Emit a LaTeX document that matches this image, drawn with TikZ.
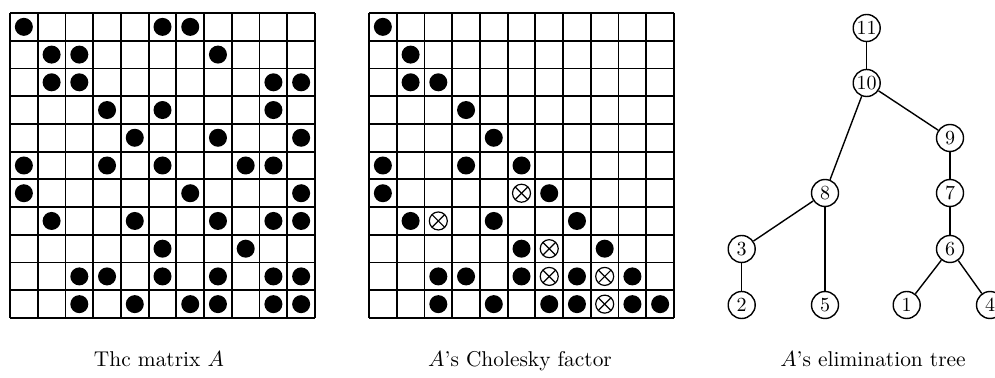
\documentclass[tikz,border=0pt]{standalone}
\usepackage{tikz}
\usetikzlibrary{positioning}

\begin{document}
\begin{tikzpicture}[
    x=0.5pt, y=-0.5pt,
    gridline/.style={line width=0.9pt},
    entry/.style={fill=black},
    fillin/.style={line width=0.6pt},
    vertex/.style={draw, circle, line width=0.7pt, minimum size=13.5pt, inner sep=0pt, font=\fontsize{10}{12}\selectfont},
    edge/.style={line width=0.7pt},
    caption/.style={anchor=base, font=\fontsize{10.7}{13}\selectfont}
]
    \useasboundingbox (0,0) rectangle (995,378);

    % The matrix A
    \begin{scope}[shift={(5pt,-6.5pt)}, x=13.864pt, y=-13.864pt]
        \foreach \i in {0,...,11} {
            \draw[gridline] (\i,0) -- (\i,11);
            \draw[gridline] (0,\i) -- (11,\i);
        }
        \foreach \r/\cs in {1/{1,6,7}, 2/{2,3,8}, 3/{2,3,10,11}, 4/{4,6,10},
                            5/{5,8,11}, 6/{1,4,6,9,10}, 7/{1,7,11}, 8/{2,5,8,10,11},
                            9/{6,9}, 10/{3,4,6,8,10,11}, 11/{3,5,7,8,10,11}}
            \foreach \c in \cs
                \fill[entry] (\c-0.5,\r-0.5) circle (4.5pt);
    \end{scope}

    % Cholesky factor
    \begin{scope}[shift={(184.5pt,-6.5pt)}, x=13.864pt, y=-13.864pt]
        \foreach \i in {0,...,11} {
            \draw[gridline] (\i,0) -- (\i,11);
            \draw[gridline] (0,\i) -- (11,\i);
        }
        \foreach \r/\cs in {1/{1}, 2/{2}, 3/{2,3}, 4/{4}, 5/{5}, 6/{1,4,6},
                            7/{1,7}, 8/{2,5,8}, 9/{6,9}, 10/{3,4,6,8,10},
                            11/{3,5,7,8,10,11}}
            \foreach \c in \cs
                \fill[entry] (\c-0.5,\r-0.5) circle (4.5pt);
        % fill-in
        \foreach \r/\c in {7/6, 8/3, 9/7, 10/7, 10/9, 11/9} {
            \draw[fillin] (\c-0.5,\r-0.5) circle (4.5pt);
            \draw[fillin] (\c-0.5,\r-0.5) ++(45:4.5pt) -- ++(225:9pt);
            \draw[fillin] (\c-0.5,\r-0.5) ++(135:4.5pt) -- ++(315:9pt);
        }
    \end{scope}

    % Elimination tree
    \node[vertex] (n11) at (866.7,28) {11};
    \node[vertex] (n10) at (866.7,83) {10};
    \node[vertex] (n9) at (950,138) {9};
    \node[vertex] (n8) at (825,193) {8};
    \node[vertex] (n7) at (950,193) {7};
    \node[vertex] (n3) at (741.7,249) {3};
    \node[vertex] (n6) at (950,249) {6};
    \node[vertex] (n2) at (741.7,305) {2};
    \node[vertex] (n5) at (825,305) {5};
    \node[vertex] (n1) at (906.7,305) {1};
    \node[vertex] (n4) at (990,305) {4};

    \draw[edge] (n11) -- (n10);
    \draw[edge] (n10) -- (n8);
    \draw[edge] (n10) -- (n9);
    \draw[edge] (n9) -- (n7);
    \draw[edge] (n7) -- (n6);
    \draw[edge] (n8) -- (n3);
    \draw[edge] (n8) -- (n5);
    \draw[edge] (n3) -- (n2);
    \draw[edge] (n6) -- (n1);
    \draw[edge] (n6) -- (n4);

    % Captions
    \node[caption] (capA) at (159,367) {Thc matrix $A$};
    \node[caption] (capL) at (520,367) {$A$'s Cholesky factor};
    \node[caption] (capT) at (873,367) {$A$'s elimination tree};
\end{tikzpicture}
\end{document}
